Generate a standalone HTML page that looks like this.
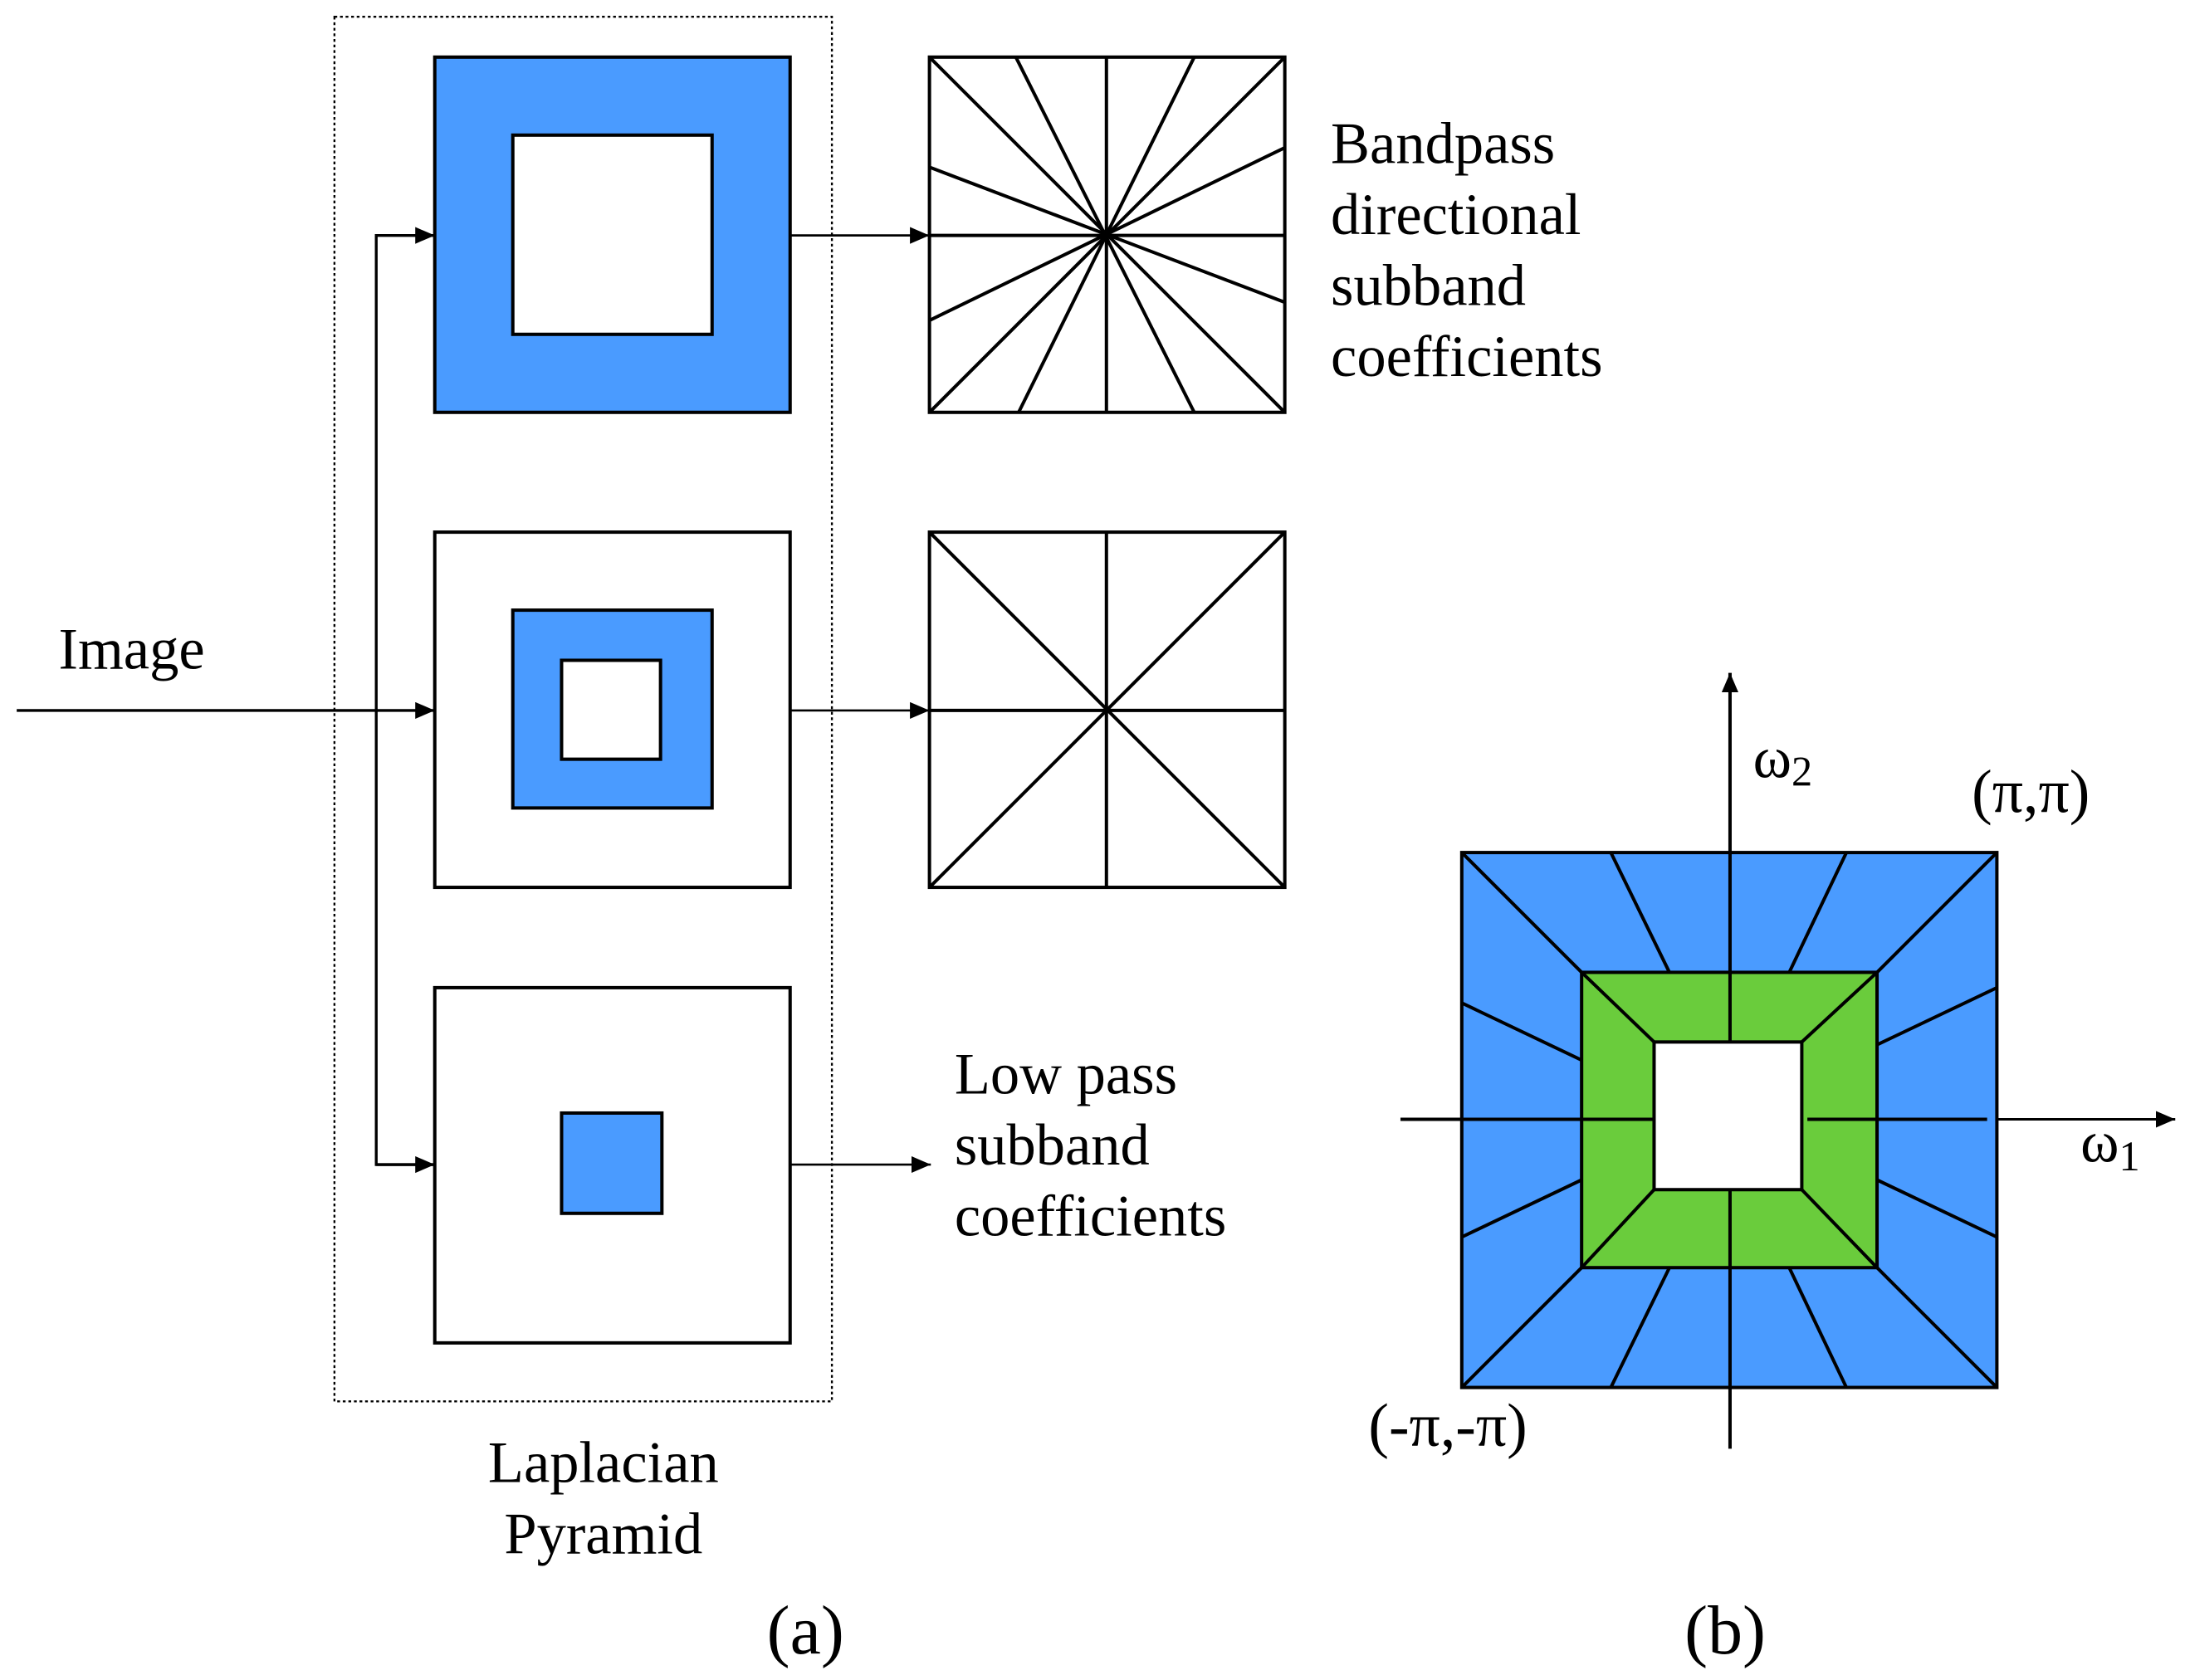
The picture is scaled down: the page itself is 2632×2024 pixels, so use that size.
<!DOCTYPE html>
<html><head><meta charset="utf-8"><style>
html,body{margin:0;padding:0;background:#fff;}
svg{display:block;}
text{font-family:"Liberation Serif",serif;fill:#000;}
</style></head><body>
<svg width="2632" height="2024" viewBox="0 0 1568 1206" preserveAspectRatio="none" xmlns="http://www.w3.org/2000/svg">
<defs>
<marker id="ah" markerWidth="14" markerHeight="14" refX="14" refY="6" orient="auto" markerUnits="userSpaceOnUse">
<path d="M0,0 L14,6 L0,12 Z" fill="#000"/>
</marker>
</defs>
<g stroke="#000" stroke-width="2.4" fill="none">
<rect x="240" y="12" width="357" height="994" stroke-width="1.4" stroke-dasharray="2,2"/>
<rect x="312" y="41" width="255" height="255" fill="#4a9bff"/>
<rect x="368" y="97" width="143" height="143" fill="#fff"/>
<rect x="312" y="382" width="255" height="255" fill="#fff"/>
<rect x="368" y="438" width="143" height="142" fill="#4a9bff"/>
<rect x="403" y="474" width="71" height="71" fill="#fff"/>
<rect x="312" y="709" width="255" height="255" fill="#fff"/>
<rect x="403" y="799" width="72" height="72" fill="#4a9bff"/>
<line x1="12" y1="510" x2="312" y2="510" stroke-width="2" marker-end="url(#ah)"/>
<polyline points="312,169 270,169 270,836 312,836" stroke-width="2"/>
<line x1="270" y1="169" x2="312" y2="169" stroke-width="2" marker-end="url(#ah)"/>
<line x1="270" y1="836" x2="312" y2="836" stroke-width="2" marker-end="url(#ah)"/>
<line x1="567" y1="169" x2="667" y2="169" stroke-width="1.6" marker-end="url(#ah)"/>
<line x1="567" y1="510" x2="667" y2="510" stroke-width="1.6" marker-end="url(#ah)"/>
<line x1="567" y1="836" x2="668" y2="836" stroke-width="1.6" marker-end="url(#ah)"/>
<rect x="667" y="41" width="255" height="255" fill="#fff"/>
<line x1="794" y1="41" x2="794" y2="296"/>
<line x1="667" y1="169" x2="922" y2="169"/>
<line x1="667" y1="41" x2="922" y2="296"/>
<line x1="922" y1="41" x2="667" y2="296"/>
<line x1="729" y1="41" x2="857" y2="296"/>
<line x1="857" y1="41" x2="731" y2="296"/>
<line x1="667" y1="120" x2="922" y2="217"/>
<line x1="667" y1="230" x2="922" y2="106"/>
<rect x="667" y="382" width="255" height="255" fill="#fff"/>
<line x1="794" y1="382" x2="794" y2="637"/>
<line x1="667" y1="510" x2="922" y2="510"/>
<line x1="667" y1="382" x2="922" y2="637"/>
<line x1="922" y1="382" x2="667" y2="637"/>
<rect x="1049" y="612" width="384" height="384" fill="#4a9bff"/>
<rect x="1135" y="698" width="212" height="212" fill="#6acc3c"/>
<rect x="1187" y="748" width="106" height="106" fill="#fff"/>
<line x1="1049" y1="612" x2="1135" y2="698"/>
<line x1="1433" y1="612" x2="1347" y2="698"/>
<line x1="1049" y1="996" x2="1135" y2="910"/>
<line x1="1433" y1="996" x2="1347" y2="910"/>
<line x1="1135" y1="698" x2="1187" y2="748"/>
<line x1="1347" y1="698" x2="1293" y2="748"/>
<line x1="1135" y1="910" x2="1187" y2="854"/>
<line x1="1347" y1="910" x2="1293" y2="854"/>
<line x1="1156" y1="612" x2="1198" y2="698"/>
<line x1="1325" y1="612" x2="1284" y2="698"/>
<line x1="1156" y1="996" x2="1198" y2="910"/>
<line x1="1325" y1="996" x2="1284" y2="910"/>
<line x1="1049" y1="720" x2="1135" y2="761"/>
<line x1="1049" y1="888" x2="1135" y2="847"/>
<line x1="1433" y1="709" x2="1347" y2="750"/>
<line x1="1433" y1="888" x2="1347" y2="847"/>
<line x1="1241.5" y1="748" x2="1241.5" y2="483" marker-end="url(#ah)"/>
<line x1="1241.5" y1="854" x2="1241.5" y2="1040"/>
<line x1="1005" y1="803.5" x2="1187" y2="803.5"/>
<line x1="1297" y1="803.5" x2="1426" y2="803.5"/>
<line x1="1433" y1="803.5" x2="1561" y2="803.5" stroke-width="1.8" marker-end="url(#ah)"/>
</g>
<g font-size="42">
<text x="42" y="480">Image</text>
<text x="955" y="117">Bandpass</text>
<text x="955" y="168">directional</text>
<text x="955" y="219">subband</text>
<text x="955" y="270">coefficients</text>
<text x="685" y="785">Low pass</text>
<text x="685" y="836">subband</text>
<text x="685" y="887">coefficients</text>
<text x="433" y="1064" text-anchor="middle">Laplacian</text>
<text x="433" y="1115" text-anchor="middle">Pyramid</text>
<text x="578" y="1187" text-anchor="middle" font-size="50">(a)</text>
<text x="1238" y="1187" text-anchor="middle" font-size="50">(b)</text>
<text x="1258" y="558">ω<tspan font-size="30" dy="6">2</tspan></text>
<text x="1415" y="583" font-size="44">(π,π)</text>
<text x="1493" y="834">ω<tspan font-size="30" dy="6">1</tspan></text>
<text x="982" y="1038" font-size="44">(-π,-π)</text>
</g>
</svg>
</body></html>
